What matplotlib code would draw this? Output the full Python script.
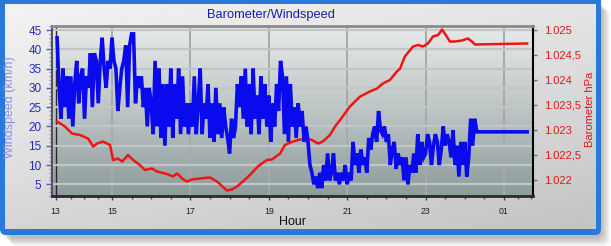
import matplotlib
matplotlib.use("Agg")
import matplotlib.pyplot as plt
import numpy as np
from matplotlib.patches import FancyBboxPatch
from matplotlib.colors import LinearSegmentedColormap
from matplotlib.ticker import FixedLocator, MultipleLocator, FuncFormatter

plt.rcParams['font.family'] = ['Liberation Sans', 'DejaVu Sans']

# barometer readings: hour of day (after midnight continues 24, 25) and hPa
baro_hours = [13.60, 13.80, 13.98, 14.18, 14.39, 14.52, 14.62, 14.77, 14.95, 15.03,
              15.15, 15.26, 15.41, 15.54, 15.71, 15.84, 16.02, 16.15, 16.40, 16.56,
              16.66, 16.79, 16.91, 17.04, 17.24, 17.50, 17.68, 17.93, 18.06, 18.19,
              18.34, 18.52, 18.72, 18.95, 19.08, 19.29, 19.41, 19.62, 19.80, 19.97,
              20.10, 20.26, 20.38, 20.56, 20.69, 20.82, 21.07, 21.33, 21.58, 21.76,
              21.91, 22.09, 22.27, 22.35, 22.47, 22.68, 22.81, 22.93, 23.06, 23.19,
              23.32, 23.42, 23.49, 23.62, 23.75, 23.93, 24.08, 24.18, 24.26, 25.59]
baro_hpa = [1023.17, 1023.07, 1022.93, 1022.90, 1022.83, 1022.67, 1022.73, 1022.77, 1022.70, 1022.40,
            1022.43, 1022.37, 1022.50, 1022.40, 1022.30, 1022.20, 1022.23, 1022.17, 1022.12, 1022.07,
            1022.13, 1022.03, 1021.97, 1022.01, 1022.03, 1022.05, 1021.97, 1021.79, 1021.81, 1021.87,
            1021.97, 1022.10, 1022.27, 1022.40, 1022.41, 1022.53, 1022.70, 1022.77, 1022.81, 1022.83,
            1022.80, 1022.73, 1022.77, 1022.90, 1023.07, 1023.20, 1023.47, 1023.67, 1023.77, 1023.83,
            1023.93, 1024.00, 1024.17, 1024.23, 1024.47, 1024.67, 1024.70, 1024.67, 1024.73, 1024.87,
            1024.90, 1025.01, 1024.93, 1024.77, 1024.77, 1024.79, 1024.83, 1024.77, 1024.71, 1024.73]

# wind speed, one reading every 3 minutes from 13:36, then held
wind_start = 13.60
wind_step = 0.05
wind_kmh = [43, 30, 22, 35, 25, 33, 22, 33, 20, 31,
            37, 26, 33, 35, 22, 33, 30, 39, 25, 39,
            37, 26, 37, 43, 35, 30, 37, 35, 43, 37,
            35, 24, 30, 35, 37, 41, 25, 41, 44, 44,
            26, 33, 30, 33, 25, 30, 20, 30, 26, 18,
            37, 20, 35, 17, 31, 15, 31, 20, 35, 17,
            31, 22, 35, 18, 33, 20, 26, 18, 26, 20,
            33, 18, 26, 35, 18, 26, 22, 31, 17, 26,
            16, 30, 18, 26, 17, 25, 20, 17, 13, 22,
            17, 20, 31, 25, 33, 22, 35, 20, 31, 18,
            35, 22, 28, 18, 33, 22, 31, 20, 28, 16,
            26, 20, 31, 24, 37, 33, 18, 33, 16, 31,
            20, 25, 17, 26, 20, 24, 16, 20, 16, 10,
            8, 5, 7, 4, 8, 4, 10, 6, 13, 6,
            8, 13, 6, 8, 5, 8, 6, 10, 5, 8,
            6, 16, 10, 13, 8, 14, 10, 12, 8, 17,
            14, 18, 20, 16, 24, 19, 18, 20, 16, 18,
            10, 14, 16, 9, 13, 10, 12, 6, 12, 5,
            10, 8, 13, 8, 18, 10, 16, 12, 13, 18,
            16, 10, 15, 18, 16, 10, 14, 20, 15, 18,
            16, 12, 19, 10, 15, 7, 16, 10, 16, 7,
            12, 22, 15, 22]
wind_tail_hours = [24.31, 25.59]
wind_tail_kmh = [18.6, 18.6]

hour_ticks = [13.56, 15, 17, 19, 21, 23, 25]
hour_labels = ['13', '15', '17', '19', '21', '23', '01']
hour_minor = [13.95, 14.29, 14.64, 15.5, 16, 16.5, 17.5, 18, 18.5, 19.5, 20, 20.5,
              21.5, 22, 22.5, 23.5, 24, 24.5, 25.35, 25.7]
wind_ticks = [5, 10, 15, 20, 25, 30, 35, 40, 45]
baro_ticks = [1022, 1022.5, 1023, 1023.5, 1024, 1024.5, 1025]


def hpa_label(v, pos):
    s = f"{v:,.1f}".replace(',', '#').replace('.', ',').replace('#', '.')
    if s.endswith(',0'):
        s = s[:-2]
    return s


fig = plt.figure(figsize=(6.11, 2.46), dpi=100)
fig.patch.set_facecolor('white')

# frame, shadow and panel in pixel coords
bg = fig.add_axes([0, 0, 1, 1])
bg.set_xlim(0, 611)
bg.set_ylim(246, 0)
bg.axis('off')
for k in range(9):
    bg.add_patch(FancyBboxPatch((3 + k, 2 + k), 599, 236, boxstyle='round,pad=0,rounding_size=7',
                                fc='black', ec='none', alpha=0.03))
bg.add_patch(FancyBboxPatch((0, -8), 601, 243, boxstyle='round,pad=0,rounding_size=6',
                            fc='#2a78d8', ec='none'))
yy, xx = np.mgrid[0:1:100j, 0:1:200j]
panel_cmap = LinearSegmentedColormap.from_list('panel', ['#f3f3f3', '#dedede', '#c4c4c4'])
bg.imshow(0.35 * xx + 0.65 * yy, cmap=panel_cmap, extent=(5, 596, 229, 4), aspect='auto',
          interpolation='bilinear', zorder=2)
bg.set_xlim(0, 611)
bg.set_ylim(246, 0)

# plot area
ax = fig.add_axes([52 / 611, 50 / 246, 481 / 611, 170 / 246])
plot_cmap = LinearSegmentedColormap.from_list('plot', ['#e8eaea', '#bcc4c4', '#8e9c9c'])
ax.imshow(np.linspace(0, 1, 256).reshape(-1, 1), cmap=plot_cmap, extent=[0, 1, 0, 1],
          transform=ax.transAxes, aspect='auto', zorder=0)

ax.set_xlim(13.47, 25.74)
ax.set_ylim(1.97, 46.04)
ax.set_xticks(hour_ticks, hour_labels)
ax.xaxis.set_minor_locator(FixedLocator(hour_minor))
ax.set_yticks(wind_ticks)
ax.yaxis.set_minor_locator(MultipleLocator(1))

ax.grid(axis='y', which='major', color='#c2c6c6', lw=1.6)
ax.grid(axis='x', which='major', color='#a6aaaa', lw=1.4)
first = ax.xaxis.get_major_ticks()[0]
first.gridline.set_color('#302424')
first.gridline.set_linewidth(1.0)

ax.tick_params(axis='x', which='major', length=3, width=1, color='#404040',
               labelsize=6.3, labelcolor='#202020', pad=4.7)
ax.tick_params(axis='x', which='minor', length=2.5, width=1, color='#505050')
ax.tick_params(axis='y', which='major', length=4.5, width=1, color='#5858b8',
               labelsize=8.5, labelcolor='#2828c0', pad=3)
ax.tick_params(axis='y', which='minor', length=2.5, width=1, color='#8c8ce0')
for sp in ax.spines.values():
    sp.set_visible(False)

ax.set_xlabel('Hour', fontsize=9, color='#111111')
ax.xaxis.set_label_coords(0.5, -0.153)
ax.xaxis.label.set_va('center')
ax.set_ylabel('Windspeed (km/h)', fontsize=9, color='#8c8ce6')
ax.yaxis.set_label_coords(-0.0873, 0.52)
ax.yaxis.label.set_va('center')

ax2 = ax.twinx()
ax2.set_ylim(1021.68, 1025.08)
ax2.set_yticks(baro_ticks)
ax2.yaxis.set_major_formatter(FuncFormatter(hpa_label))
ax2.tick_params(axis='y', which='major', length=3, width=1, color='#707070',
                labelsize=8, labelcolor='#e01818', pad=5)
ax2.set_ylabel('Barometer hPa', fontsize=8, color='#e01818')
ax2.yaxis.set_label_coords(1.1185, 0.51)
ax2.yaxis.label.set_va('center')

ax2.plot(baro_hours, baro_hpa, color='#f01414', lw=1.8, zorder=2)
wind_hours = list(wind_start + wind_step * np.arange(len(wind_kmh))) + wind_tail_hours
ax2.plot(wind_hours, wind_kmh + wind_tail_kmh, color='#0a0aef', lw=2.6,
         solid_joinstyle='miter', transform=ax.transData, zorder=3)

ax2.spines['left'].set_color('#555555')
ax2.spines['left'].set_linewidth(1.5)
ax2.spines['right'].set_color('#000000')
ax2.spines['right'].set_linewidth(1.5)
ax2.spines['top'].set_color('#8a8a8a')
ax2.spines['top'].set_linewidth(2)
ax2.spines['bottom'].set_color('#2a2a2a')
ax2.spines['bottom'].set_linewidth(2)

fig.text(271 / 611, 1 - 15 / 246, 'Barometer/Windspeed', ha='center', va='center',
         fontsize=9.3, color='#1c1cb4')

fig.savefig('out.png', dpi=100)
